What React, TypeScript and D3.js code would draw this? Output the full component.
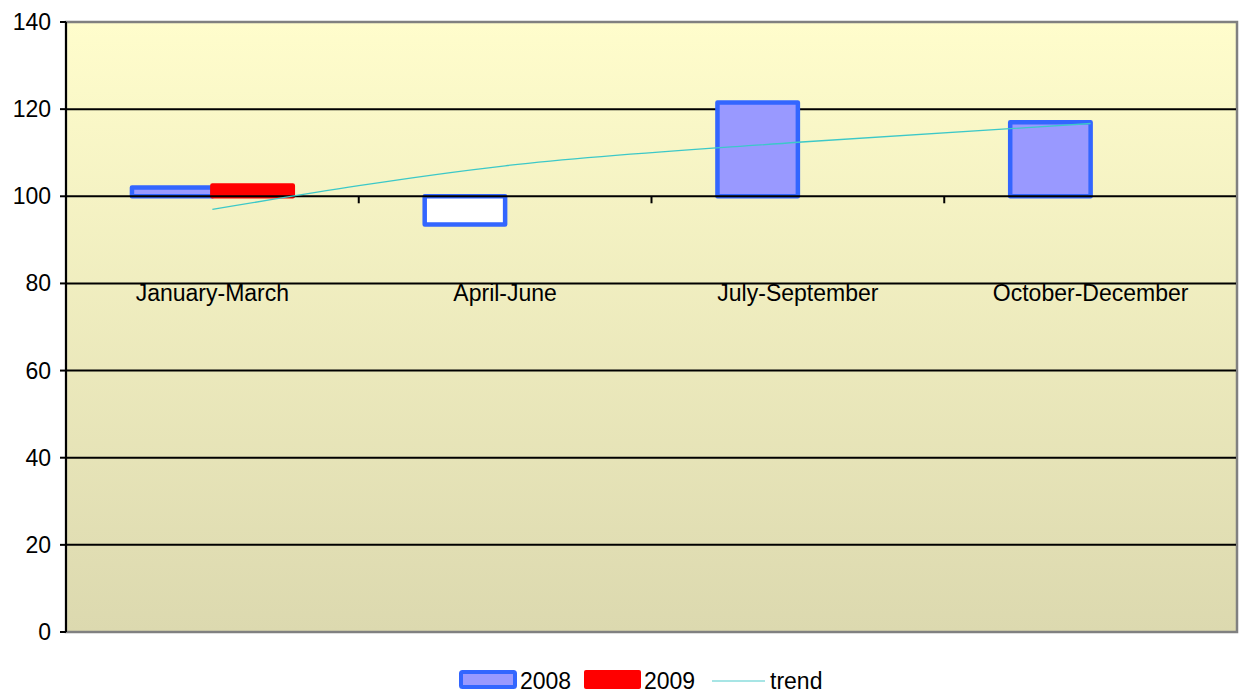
import React from 'react';
import * as d3 from 'd3';

const categories = ['January-March', 'April-June', 'July-September', 'October-December'];
const seriesNames = ['2008', '2009'];
const values2008: (number | null)[] = [102, 93.5, 121.5, 117];
const values2009: (number | null)[] = [102.5, null, null, null];
const trendValues = [97, 107, 112.4, 116.7];
const yTicks = [0, 20, 40, 60, 80, 100, 120, 140];

const W = 1243;
const H = 693;
const margin = { top: 22, right: 6, bottom: 61, left: 66 };
const FONT = '"Liberation Sans", Arial, sans-serif';

export default function App() {
  const x = d3
    .scaleBand<string>()
    .domain(categories)
    .range([margin.left, W - margin.right])
    .padding(0);
  const inner = d3
    .scaleBand<string>()
    .domain(seriesNames)
    .range([0, x.bandwidth()])
    .paddingInner(0)
    .paddingOuter(0.82);
  const y = d3.scaleLinear().domain([0, 140]).range([H - margin.bottom, margin.top]);
  const base = y(100);

  const bars: { key: string; cx: number; v: number; series: string }[] = [];
  categories.forEach((c, i) => {
    const a = values2008[i];
    const b = values2009[i];
    if (a != null) bars.push({ key: c + '-a', cx: (x(c) ?? 0) + (inner('2008') ?? 0), v: a, series: '2008' });
    if (b != null) bars.push({ key: c + '-b', cx: (x(c) ?? 0) + (inner('2009') ?? 0), v: b, series: '2009' });
  });

  const trendLine = d3
    .line<number>()
    .x((_, i) => (x(categories[i]) ?? 0) + x.bandwidth() / 2)
    .y((d) => y(d))
    .curve(d3.curveMonotoneX);

  const left = margin.left;
  const right = W - margin.right;
  const top = margin.top;
  const bottom = H - margin.bottom;

  return (
    <div style={{ position: 'absolute', left: 0, top: 0 }}>
      <svg width={W} height={H} style={{ display: 'block', background: '#fff' }} fontFamily={FONT}>
        <defs>
          <linearGradient id="plotBg" x1="0" y1="0" x2="0" y2="1">
            <stop offset="0" stopColor="#FFFDCC" />
            <stop offset="1" stopColor="#DCD9AF" />
          </linearGradient>
        </defs>
        <rect x={left} y={top} width={right - left} height={bottom - top} fill="url(#plotBg)" stroke="#808080" strokeWidth={2.5} />

        {/* Gridlines */}
        {yTicks
          .filter((t) => t !== 0 && t !== 140 && t !== 100)
          .map((t) => (
            <line key={t} x1={left} x2={right - 1} y1={y(t)} y2={y(t)} stroke="#000" strokeWidth={2} />
          ))}

        {/* Bars */}
        {bars.map((b) => {
          const y0 = Math.min(y(b.v), base);
          const h = Math.abs(y(b.v) - base);
          const is08 = b.series === '2008';
          const fill = is08 ? (b.v < 100 ? '#FFFFFF' : '#9999FF') : '#FF0000';
          const stroke = is08 ? '#3366FF' : '#FF0000';
          return (
            <rect
              key={b.key}
              x={b.cx}
              y={y0}
              width={inner.bandwidth()}
              height={h}
              fill={fill}
              stroke={stroke}
              strokeWidth={4.5}
              strokeLinejoin="round"
            />
          );
        })}

        {/* Category axis at 100 */}
        <line x1={left} x2={right - 1} y1={base} y2={base} stroke="#000" strokeWidth={2} />
        {categories.slice(1).map((c) => (
          <line key={c} x1={x(c) ?? 0} x2={x(c) ?? 0} y1={base} y2={base + 7} stroke="#000" strokeWidth={2} />
        ))}
        {categories.map((c) => (
          <text
            key={c}
            x={(x(c) ?? 0) + x.bandwidth() / 2}
            y={y(80) + 10}
            dy="0.35em"
            textAnchor="middle"
            fontSize={23}
            fill="#000"
          >
            {c}
          </text>
        ))}

        {/* Trend */}
        <path d={trendLine(trendValues) ?? ''} fill="none" stroke="#3CC8C8" strokeWidth={1.3} />

        {/* Value axis */}
        <line x1={left} x2={left} y1={top} y2={bottom} stroke="#000" strokeWidth={2} />
        {yTicks.map((t) => (
          <g key={t}>
            <line x1={left - 6} x2={left} y1={y(t)} y2={y(t)} stroke="#000" strokeWidth={2} />
            <text x={51} y={y(t)} dy="0.35em" textAnchor="end" fontSize={23} fill="#000">
              {t}
            </text>
          </g>
        ))}

        {/* Legend */}
        <g>
          <rect x={461} y={672} width={54} height={15} fill="#9999FF" stroke="#3366FF" strokeWidth={4} rx={1.5} />
          <text x={520} y={681} dy="0.35em" fontSize={23} fill="#000">2008</text>
          <rect x={584} y={670} width={57} height={19} fill="#FF0000" rx={2} />
          <text x={644} y={681} dy="0.35em" fontSize={23} fill="#000">2009</text>
          <line x1={712} x2={765} y1={681} y2={681} stroke="#8ADCDC" strokeWidth={1.5} />
          <text x={770} y={681} dy="0.35em" fontSize={23} fill="#000">trend</text>
        </g>
      </svg>
    </div>
  );
}
